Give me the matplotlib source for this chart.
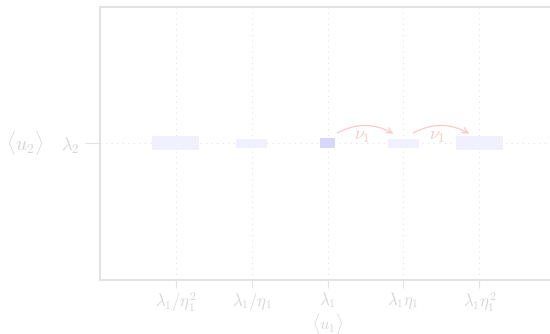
import matplotlib
matplotlib.use("Agg")
import matplotlib.pyplot as plt
from matplotlib.patches import Rectangle

plt.rcParams["mathtext.fontset"] = "cm"

# eigenvalue ladder along <u1>, in powers of eta_1
powers = [-2, -1, 0, 1, 2]
tick_labels = [r"$\lambda_1/\eta_1^2$", r"$\lambda_1/\eta_1$", r"$\lambda_1$",
               r"$\lambda_1\eta_1$", r"$\lambda_1\eta_1^2$"]
box_widths = [0.62, 0.41, 0.21, 0.41, 0.62]
box_heights = [0.10, 0.066, 0.074, 0.066, 0.10]
arrow_pairs = [(0, 1), (1, 2)]
arrow_label = r"$\nu_1$"

txt = "#d6d6d6"
edge = "#e2e2e2"

fig = plt.figure(figsize=(5.5, 3.34), dpi=100)
ax = fig.add_axes([100 / 550, 54.5 / 334, 455 / 550, 272.5 / 334])
ax.set_xlim(-3, 3)
ax.set_ylim(-1, 1)

for x in powers:
    ax.axvline(x, color=edge, ls=(0, (1, 4)), lw=0.8, zorder=0)
ax.axhline(0, color=edge, ls=(0, (1, 4)), lw=0.8, zorder=0)

for x, w, h in zip(powers, box_widths, box_heights):
    fc = "#d7d7fb" if x == 0 else "#f0f0fe"
    ax.add_patch(Rectangle((x - w / 2, -h / 2), w, h, fc=fc, ec="none", zorder=2))

for a, b in arrow_pairs:
    ax.annotate("", xy=(b - 0.1, 0.06), xytext=(a + 0.1, 0.066),
                arrowprops=dict(arrowstyle="->", color="#fcc8c8", lw=0.9,
                                connectionstyle="arc3,rad=-0.3"), zorder=3)
    ax.text((a + b) / 2 - 0.05, 0.055, arrow_label, color="#fcc8c8", fontsize=13,
            ha="center", va="center")

ax.set_xticks(powers)
ax.set_xticklabels(tick_labels, fontsize=12, color=txt)
ax.set_yticks([0])
ax.set_yticklabels([r"$\lambda_2$"], fontsize=13, color=txt)
ax.tick_params(axis="x", length=6, color=edge, pad=2)
ax.tick_params(axis="y", length=11, color=edge, pad=4)

ax.set_xlabel(r"$\langle u_1\rangle$", fontsize=11.5, color=txt, va="center")
ax.xaxis.set_label_coords(0.5, -0.163)
ax.set_ylabel(r"$\langle u_2\rangle$", fontsize=14, color=txt, rotation=0,
              va="center", ha="center")
ax.yaxis.set_label_coords(-0.165, 0.5)

for s in ax.spines.values():
    s.set_color(edge)
    s.set_linewidth(1.4)

fig.savefig("out.png", dpi=100)
